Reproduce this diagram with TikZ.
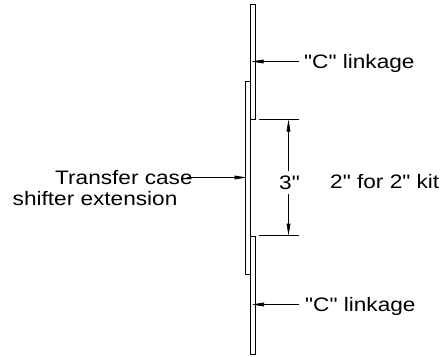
\documentclass[tikz,border=0pt]{standalone}
\usepackage{fontspec}
\newfontfamily\labfont[FakeStretch=1.16]{Liberation Sans}
\usetikzlibrary{arrows.meta}
\tikzset{
  plate/.style={draw=black,line width=1pt,fill=white},
  lead/.style={draw=black,line width=0.6pt,-{Triangle[length=12pt,width=3.8pt]}},
  dimline/.style={draw=black,line width=0.5pt},
  label/.style={inner sep=0pt,font=\labfont\fontsize{19.5}{22}\selectfont,text=black}
}
\begin{document}
\begin{tikzpicture}[x=1pt,y=-1pt]
\useasboundingbox (0,0) rectangle (443,356);
\fill[white] (0,0) rectangle (443,356);
\node[plate,minimum width=5pt,minimum height=193pt,inner sep=0pt,anchor=north west] (mid) at (244.5,81) {};
\node[plate,minimum width=5pt,minimum height=115pt,inner sep=0pt,anchor=north west] (upper) at (249.5,4) {};
\node[plate,minimum width=5pt,minimum height=118pt,inner sep=0pt,anchor=north west] (lower) at (249.5,235.5) {};
\coordinate (uptip) at (251.5,61.5);
\coordinate (lowtip) at (252,304.5);
\coordinate (midtip) at (246.5,177.5);
\node[label,anchor=base west] (clink1) at (304,68.3) {"C" linkage};
\node[label,anchor=base west] (clink2) at (305,311) {"C" linkage};
\node[label,anchor=base west] (tc1) at (55,184) {Transfer case};
\node[label,anchor=base west] (tc2) at (12.5,205) {shifter extension};
\node[label,anchor=base west] (three) at (279,189) {3"};
\node[label,anchor=base west] (kit) at (330,188) {2" for 2" kit};
\coordinate (upstart) at (299,61.5);
\coordinate (lowstart) at (299,304.5);
\coordinate (midstart) at (187,177.5);
\coordinate (dimtopl) at (259,119.5);
\coordinate (dimtopr) at (299,119.5);
\coordinate (dimbotl) at (259,235.5);
\coordinate (dimbotr) at (299,235.5);
\coordinate (dimtop) at (288.5,119.5);
\coordinate (dimbot) at (288.5,235.5);
\coordinate (gaptop) at (288.5,171);
\coordinate (gapbot) at (288.5,194);
\draw[lead] (upstart) -- (uptip);
\draw[lead] (lowstart) -- (lowtip);
\draw[lead] (midstart) -- (midtip);
\draw[dimline] (dimtopl) -- (dimtopr);
\draw[dimline] (dimbotl) -- (dimbotr);
\draw[lead] (gaptop) -- (dimtop);
\draw[lead] (gapbot) -- (dimbot);
\end{tikzpicture}
\end{document}
